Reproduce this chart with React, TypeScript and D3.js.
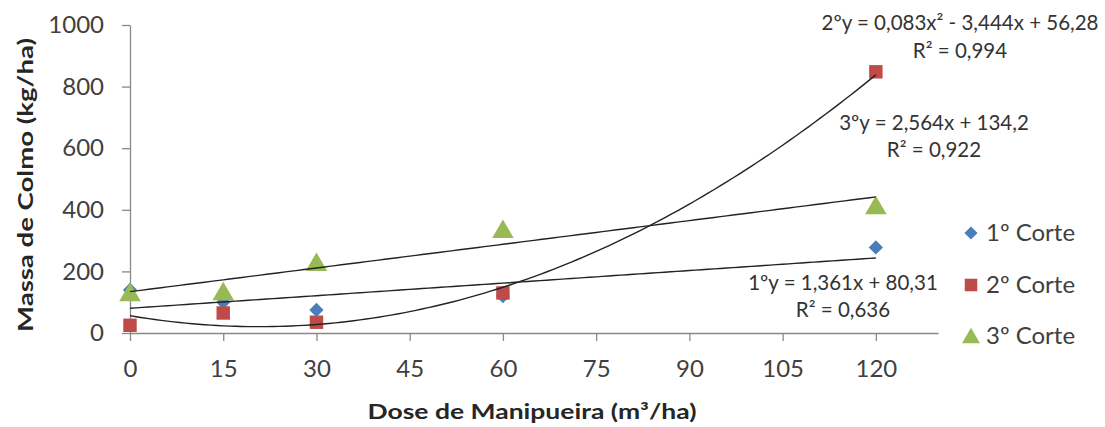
import React, { useEffect, useRef } from 'react';
import * as d3 from 'd3';

// doses (m³/ha)
const doses = [0, 15, 30, 60, 120];
const xTicks = [0, 15, 30, 45, 60, 75, 90, 105, 120];
const yTicks = [0, 200, 400, 600, 800, 1000];

// massa de colmo (kg/ha) por corte
const corte1 = [140, 100, 75, 120, 278];
const corte2 = [25, 65, 35, 130, 848];
const corte3 = [130, 133, 228, 335, 412];

// coeficientes das linhas de tendência [a, b, c] -> a*x² + b*x + c
const trend1 = [0, 1.361, 80.31];
const trend2 = [0.083, -3.444, 56.28];
const trend3 = [0, 2.564, 134.2];

const seriesNames = ['1º Corte', '2º Corte', '3º Corte'];
const colors = ['#4a7ebb', '#be4b48', '#98b954'];

const equations = [
  { lines: ['2ºy = 0,083x² - 3,444x + 56,28', 'R² = 0,994'], x: 960, y: [30, 58] },
  { lines: ['3ºy = 2,564x + 134,2', 'R² = 0,922'], x: 934, y: [130, 157] },
  { lines: ['1ºy = 1,361x + 80,31', 'R² = 0,636'], x: 843, y: [290, 317] },
];

const FONT = "Lato, 'Open Sans', sans-serif";

export default function App() {
  const ref = useRef<SVGSVGElement>(null);

  useEffect(() => {
    const svg = d3.select(ref.current);
    svg.selectAll('*').remove();

    const x = d3.scaleLinear().domain([0, 130]).range([130, 938]);
    const y = d3.scaleLinear().domain([0, 1000]).range([333, 25]);

    // axes
    const yAxis = svg.append('g')
      .attr('transform', 'translate(130,0)')
      .call(d3.axisLeft(y).tickValues(yTicks).tickFormat(d3.format('d')).tickSize(8).tickPadding(18).tickSizeOuter(0));
    const xAxis = svg.append('g')
      .attr('transform', 'translate(0,333)')
      .call(d3.axisBottom(x).tickValues(xTicks).tickSize(8).tickPadding(19).tickSizeOuter(0));

    [yAxis, xAxis].forEach(ax => {
      ax.select('.domain').attr('stroke', '#898989').attr('stroke-width', 1.3);
      ax.selectAll('.tick line').attr('stroke', '#898989').attr('stroke-width', 1.3);
      ax.selectAll('.tick text')
        .attr('font-family', FONT)
        .attr('font-size', 24)
        .attr('fill', '#404040');
    });

    // markers
    const data = [corte1, corte2, corte3];
    const symbols = [
      d3.symbol().type(d3.symbolDiamond2).size(130),
      d3.symbol().type(d3.symbolSquare2).size(230),
      d3.symbol().type(d3.symbolTriangle2).size(330),
    ];
    data.forEach((vals, si) => {
      svg.append('g').selectAll('path')
        .data(vals).enter()
        .append('path')
        .attr('d', symbols[si]() as string)
        .attr('transform', (d, i) => `translate(${x(doses[i])},${y(d) + (si === 2 ? 2 : 0)})`)
        .attr('fill', colors[si]);
    });

    // trend lines
    const xs = d3.range(0, 120.5, 1);
    [trend1, trend2, trend3].forEach(c => {
      const l = d3.line<number>()
        .x(d => x(d))
        .y(d => y(c[0] * d * d + c[1] * d + c[2]));
      svg.append('path')
        .attr('d', l(xs))
        .attr('fill', 'none')
        .attr('stroke', '#222')
        .attr('stroke-width', 1.4);
    });

    // equations
    equations.forEach(eq => {
      eq.lines.forEach((t, i) => {
        svg.append('text')
          .attr('x', eq.x)
          .attr('y', eq.y[i])
          .attr('text-anchor', 'middle')
          .attr('font-family', FONT)
          .attr('font-size', 20.5)
          .attr('fill', '#333')
          .text(t);
      });
    });

    // legend
    const legY = [233, 285, 336];
    seriesNames.forEach((name, i) => {
      const sym = i === 0
        ? d3.symbol().type(d3.symbolDiamond2).size(110)
        : i === 1
          ? d3.symbol().type(d3.symbolSquare2).size(200)
          : d3.symbol().type(d3.symbolTriangle2).size(230);
      svg.append('path')
        .attr('d', sym() as string)
        .attr('transform', `translate(971,${legY[i] + (i === 2 ? 2 : 0)})`)
        .attr('fill', colors[i]);
      svg.append('text')
        .attr('x', 986)
        .attr('y', legY[i])
        .attr('dy', '0.35em')
        .attr('font-family', FONT)
        .attr('font-size', 24)
        .attr('fill', '#404040')
        .text(name);
    });

    // axis titles
    svg.append('text')
      .attr('transform', 'translate(33,185) rotate(-90)')
      .attr('text-anchor', 'middle')
      .attr('font-family', FONT)
      .attr('font-weight', 'bold')
      .attr('font-size', 20)
      .attr('textLength', 294)
      .attr('lengthAdjust', 'spacingAndGlyphs')
      .attr('fill', '#262626')
      .text('Massa de Colmo (kg/ha)');
    svg.append('text')
      .attr('x', 532)
      .attr('y', 419)
      .attr('text-anchor', 'middle')
      .attr('font-family', FONT)
      .attr('font-weight', 'bold')
      .attr('font-size', 20)
      .attr('textLength', 329)
      .attr('lengthAdjust', 'spacingAndGlyphs')
      .attr('fill', '#262626')
      .text('Dose de Manipueira (m³/ha)');
  }, []);

  return (
    <svg
      ref={ref}
      width={1105}
      height={427}
      style={{ position: 'absolute', left: 0, top: 0, background: '#fff' }}
    />
  );
}
